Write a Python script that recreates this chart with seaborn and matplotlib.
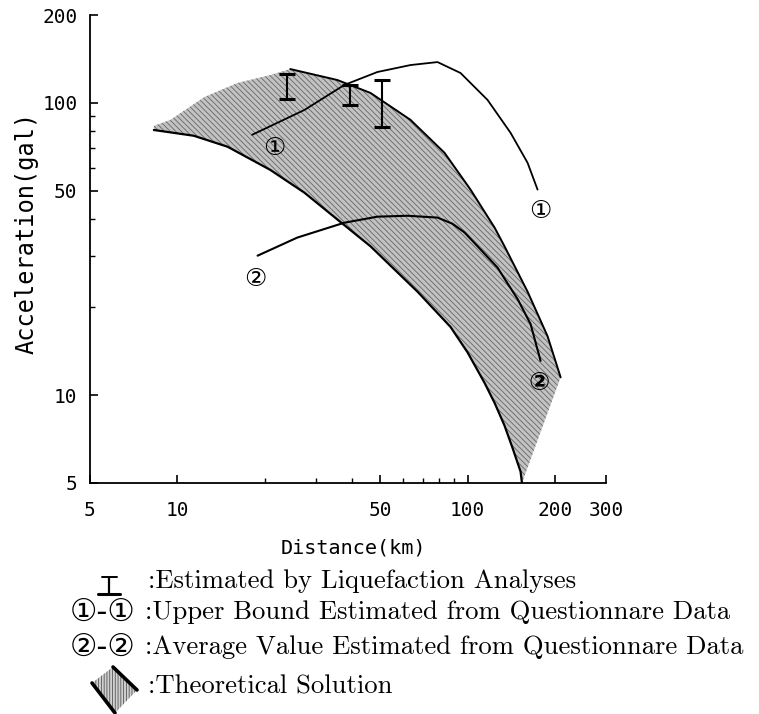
import numpy as np
import pandas as pd
import matplotlib
matplotlib.use("Agg")
import matplotlib.pyplot as plt
import seaborn as sns
from matplotlib.patches import Polygon
from matplotlib.lines import Line2D
from matplotlib.ticker import FixedLocator, FixedFormatter, NullFormatter

# ---------------- data ----------------
# theoretical band: soft upper edge on the left (no line)
band_top_x = [8.3, 9.46, 12.4, 16.1, 20.9]
band_top_y = [83.5, 87.5, 104.8, 117.0, 124.6]
# theoretical band: upper solid boundary
upper_x = [24.5, 35.6, 46.3, 63.6, 83.3, 102.4, 124.0, 134.1, 161.0, 188.7, 209.3]
upper_y = [130.6, 119.8, 108.2, 87.5, 67.5, 50.5, 37.4, 32.3, 22.6, 15.9, 11.5]
# theoretical band: lower solid boundary
lower_x = [8.3, 11.4, 14.9, 20.9, 27.4, 35.6, 46.3, 67.2, 87.4, 100.0, 114.5, 124.0, 134.1, 142.9, 152.3, 154.0]
lower_y = [80.8, 77.2, 70.8, 59.0, 49.3, 39.9, 32.3, 22.6, 17.1, 14.0, 11.0, 9.39, 7.86, 6.59, 5.47, 5.0]
# curve 1-1: upper bound from questionnaire data
c1_x = [18.1, 27.4, 37.6, 48.9, 63.6, 78.8, 94.6, 117.2, 140.7, 161.0, 174.3]
c1_y = [77.8, 94.6, 115.2, 127.6, 134.8, 138.0, 126.6, 102.4, 79.0, 62.4, 50.5]
# curve 2-2: average value from questionnaire data
c2_x = [18.9, 25.9, 37.6, 48.9, 62.1, 78.8, 88.7, 97.7, 110.9, 126.9, 137.4, 148.8, 164.9, 178.5]
c2_y = [30.0, 34.6, 38.9, 40.8, 41.1, 40.5, 38.6, 36.0, 31.5, 27.3, 24.1, 21.3, 17.5, 13.1]
# liquefaction-analysis estimates (ranges)
eb_x = [23.9, 39.5, 50.9]
eb_lo = [103.2, 98.4, 82.8]
eb_hi = [125.6, 115.2, 119.8]
# curve labels
lab_text = ["①", "①", "②", "②"]
lab_x = [21.6, 178.5, 18.6, 177.0]
lab_y = [70.2, 42.5, 24.9, 11.0]
# ticks
x_major = [5, 10, 50, 100, 200, 300]
x_minor = [20, 30, 40, 60, 70, 80, 90]
y_major = [5, 10, 50, 100, 200]
y_minor = [20, 30, 40, 60, 70, 80, 90]

# ---------------- style ----------------
sns.set_theme(style="ticks")
plt.rcParams["font.family"] = ["DejaVu Sans Mono", "DejaVu Sans"]
plt.rcParams["hatch.linewidth"] = 0.6

W, H = 759, 714
fig = plt.figure(figsize=(W / 100, H / 100), dpi=100)
fig.patch.set_facecolor("white")
ax = fig.add_axes([90 / W, 1 - 483 / H, 516 / W, 468 / H])
ax.set_facecolor("white")
ax.set_xscale("log")
ax.set_yscale("log")
ax.set_xlim(5, 300)
ax.set_ylim(5, 200)

# shaded theoretical band
poly_x = band_top_x + upper_x + lower_x[::-1]
poly_y = band_top_y + upper_y + lower_y[::-1]
ax.fill(poly_x, poly_y, facecolor="#c2c2c2", edgecolor="#666666",
        hatch="\\\\\\\\\\\\", linewidth=0, zorder=1)

line_kw = dict(color="black", sort=False, estimator=None, ax=ax, legend=False)
sns.lineplot(data=pd.DataFrame({"x": upper_x, "y": upper_y}), x="x", y="y", lw=1.4, **line_kw)
sns.lineplot(data=pd.DataFrame({"x": lower_x, "y": lower_y}), x="x", y="y", lw=1.6, **line_kw)
sns.lineplot(data=pd.DataFrame({"x": c1_x, "y": c1_y}), x="x", y="y", lw=1.3, **line_kw)
sns.lineplot(data=pd.DataFrame({"x": c2_x, "y": c2_y}), x="x", y="y", lw=1.5, **line_kw)

eb_lo_a = np.array(eb_lo)
eb_hi_a = np.array(eb_hi)
ax.errorbar(eb_x, eb_lo_a, yerr=[np.zeros_like(eb_lo_a), eb_hi_a - eb_lo_a],
            fmt="none", ecolor="black", elinewidth=1.5, capsize=5.5, capthick=2.2, zorder=4)

for i, (t, x, y) in enumerate(zip(lab_text, lab_x, lab_y)):
    ax.text(x, y, t, ha="center", va="center", fontsize=18,
            family=["DejaVu Sans"], color="black", zorder=5,
            fontweight="bold" if i == 3 else "normal")

# axes styling
for s in ["top", "right"]:
    ax.spines[s].set_visible(False)
for s in ["left", "bottom"]:
    ax.spines[s].set_linewidth(1.3)
    ax.spines[s].set_color("black")

ax.xaxis.set_major_locator(FixedLocator(x_major))
ax.xaxis.set_major_formatter(FixedFormatter([str(v) for v in x_major]))
ax.xaxis.set_minor_locator(FixedLocator(x_minor))
ax.xaxis.set_minor_formatter(NullFormatter())
ax.yaxis.set_major_locator(FixedLocator(y_major))
ax.yaxis.set_major_formatter(FixedFormatter([str(v) for v in y_major]))
ax.yaxis.set_minor_locator(FixedLocator(y_minor))
ax.yaxis.set_minor_formatter(NullFormatter())

ax.tick_params(axis="both", which="major", direction="in", length=6, width=1.2,
               color="black", labelsize=14, labelcolor="black")
ax.tick_params(axis="both", which="minor", direction="in", length=3.5, width=1.0, color="black")
ax.tick_params(axis="x", which="major", pad=13)
ax.tick_params(axis="y", which="major", pad=9)
for lbl in ax.get_xticklabels() + ax.get_yticklabels():
    lbl.set_family(["DejaVu Sans Mono"])

ax.set_xlabel("Distance(km)", fontsize=14.5, family=["DejaVu Sans Mono"], color="black")
ax.set_ylabel("Acceleration(gal)", fontsize=17, family=["DejaVu Sans Mono"], color="black")
ax.xaxis.set_label_coords(0.51, -0.118)
ax.yaxis.set_label_coords(-0.10, 0.535)

# ---------------- legend below the chart ----------------
def fx(px):
    return px / W

def fy(py):
    return 1 - py / H

serif = ["cmr10", "DejaVu Serif"]
circ = ["DejaVu Sans"]
fs = 19.2

# I-beam symbol
fig.add_artist(Line2D([fx(109), fx(109)], [fy(577), fy(594)], color="black", lw=1.6))
fig.add_artist(Line2D([fx(102), fx(117)], [fy(577), fy(577)], color="black", lw=1.4))
fig.add_artist(Line2D([fx(98), fx(120)], [fy(594), fy(594)], color="black", lw=2.2))
fig.text(fx(148), fy(581), ":Estimated by Liquefaction Analyses", fontsize=fs,
         family=serif, va="center", ha="left", color="black")

fig.text(fx(70), fy(612), "①-①", fontsize=22, family=circ, va="center", ha="left", color="black")
fig.text(fx(145), fy(612), ":Upper Bound Estimated from Questionnare Data", fontsize=fs,
         family=serif, va="center", ha="left", color="black")
fig.text(fx(70), fy(647), "②-②", fontsize=22, family=circ, va="center", ha="left", color="black")
fig.text(fx(145), fy(647), ":Average Value Estimated from Questionnare Data", fontsize=fs,
         family=serif, va="center", ha="left", color="black")

# hatched band symbol
sym = Polygon([(fx(92), fy(683)), (fx(113), fy(667)), (fx(137), fy(690)), (fx(115), fy(713))],
              closed=True, facecolor="#d0d0d0", edgecolor="#555555", hatch="||||||",
              linewidth=0, transform=fig.transFigure)
fig.add_artist(sym)
fig.add_artist(Line2D([fx(92), fx(115)], [fy(683), fy(713)], color="black", lw=2.6))
fig.add_artist(Line2D([fx(113), fx(137)], [fy(667), fy(690)], color="black", lw=2.6))
fig.text(fx(148), fy(687), ":Theoretical Solution", fontsize=fs,
         family=serif, va="center", ha="left", color="black")

fig.savefig("out.png", dpi=100, facecolor="white")
